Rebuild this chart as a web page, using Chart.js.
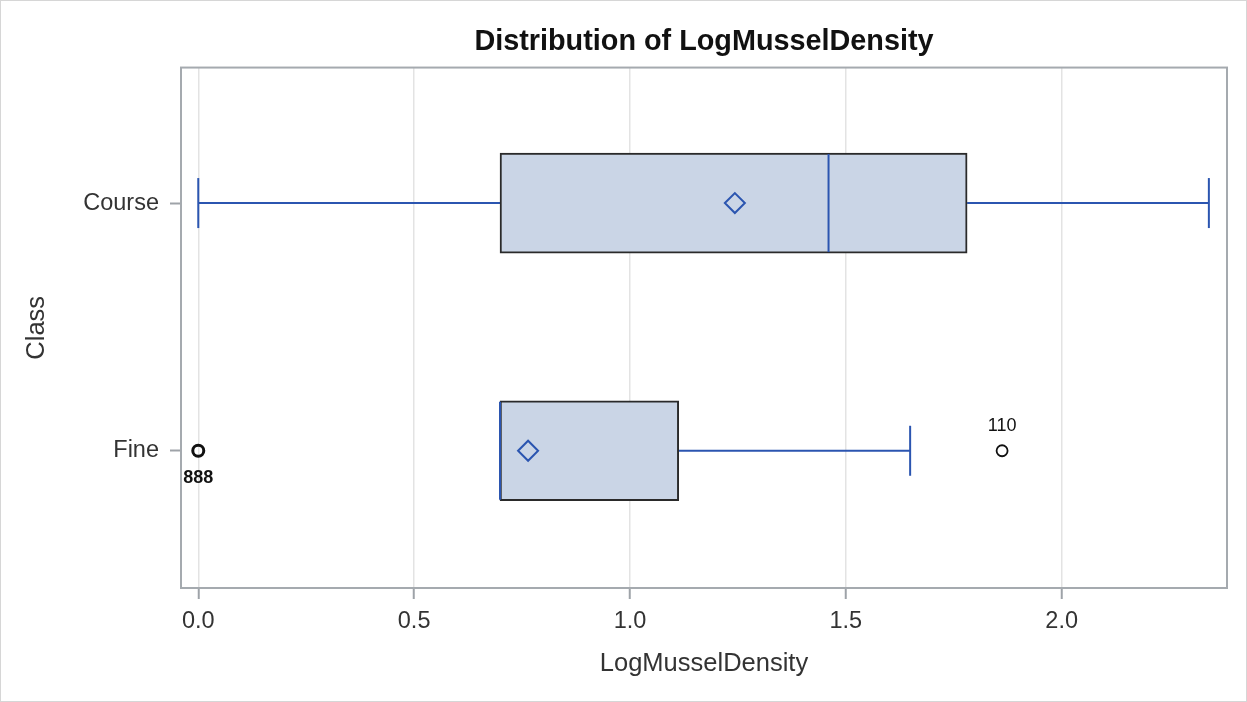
<!DOCTYPE html>
<html>
<head>
<meta charset="utf-8">
<script src="https://cdn.jsdelivr.net/npm/chart.js@4.4.0/dist/chart.umd.min.js"></script>
<style>
html, body { margin: 0; padding: 0; background: #fff; }
#moldura { width: 1245px; height: 700px; border: 1px solid #d6d6d6; }
</style>
</head>
<body>
<div id="moldura"><canvas id="graficoCaixas" width="1245" height="700"></canvas></div>
<script>
// dados
const classes = ['Course', 'Fine'];
const minimos = [0, 0.699];
const q1 = [0.699, 0.699];
const medianas = [1.460, 0.699];
const q3 = [1.781, 1.113];
const maximos = [2.341, 1.649];
const medias = [1.243, 0.764];

const outlierClasse = ['Fine', 'Fine'];
const outlierValor = [0, 1.862];
const outlierRotulo = ['888', '110'];
const outlierQtd = [4, 1];

const xTicks = [0, 0.5, 1.0, 1.5, 2.0];

const azul = '#2b55b0';
const corTexto = '#333333';
const corMoldura = '#a5aaaf';

// Course em cima, Fine em baixo
const posY = i => classes.length - 1 - i;

Chart.defaults.font.family = "'Liberation Sans', Arial, sans-serif";
Chart.defaults.color = corTexto;

const linha = (ctx, x1, y1, x2, y2) => {
    ctx.beginPath();
    ctx.moveTo(x1, y1);
    ctx.lineTo(x2, y2);
    ctx.stroke();
};

const caixas = {
    id: 'caixas',
    beforeDatasetsDraw(chart) {
        const { ctx, scales: { x, y } } = chart;
        ctx.save();
        ctx.strokeStyle = azul;
        ctx.lineWidth = 2;
        classes.forEach((c, i) => {
            const py = y.getPixelForValue(posY(i));
            const xMin = x.getPixelForValue(minimos[i]);
            const xQ1 = x.getPixelForValue(q1[i]);
            const xQ3 = x.getPixelForValue(q3[i]);
            const xMax = x.getPixelForValue(maximos[i]);
            if (minimos[i] < q1[i]) {
                linha(ctx, xMin, py, xQ1, py);
                linha(ctx, xMin, py - 25, xMin, py + 25);
            }
            if (maximos[i] > q3[i]) {
                linha(ctx, xQ3, py, xMax, py);
                linha(ctx, xMax, py - 25, xMax, py + 25);
            }
        });
        ctx.restore();
    },
    afterDatasetsDraw(chart) {
        const { ctx, scales: { x, y } } = chart;
        ctx.save();
        ctx.strokeStyle = azul;
        ctx.lineWidth = 2;
        classes.forEach((c, i) => {
            const py = y.getPixelForValue(posY(i));
            const xm = x.getPixelForValue(medianas[i]);
            linha(ctx, xm, py - 49, xm, py + 49);
        });
        // rótulos dos outliers
        ctx.fillStyle = '#111';
        ctx.textAlign = 'center';
        ctx.textBaseline = 'middle';
        outlierValor.forEach((v, k) => {
            const px = x.getPixelForValue(v);
            const py = y.getPixelForValue(posY(classes.indexOf(outlierClasse[k])));
            if (outlierQtd[k] > 1) {
                ctx.font = "bold 18px 'Liberation Sans', Arial, sans-serif";
                ctx.fillText(outlierRotulo[k], px, py + 27);
            } else {
                ctx.font = "18px 'Liberation Sans', Arial, sans-serif";
                ctx.fillText(outlierRotulo[k], px, py - 25);
            }
        });
        ctx.restore();
    },
    afterDraw(chart) {
        const { ctx, chartArea: a } = chart;
        ctx.save();
        ctx.strokeStyle = corMoldura;
        ctx.lineWidth = 2;
        ctx.strokeRect(a.left, a.top, a.right - a.left, a.bottom - a.top);
        ctx.restore();
    }
};

const ctx = document.getElementById('graficoCaixas').getContext('2d');
new Chart(ctx, {
    type: 'bar',
    data: {
        datasets: [{
            type: 'bar',
            indexAxis: 'y',
            data: classes.map((c, i) => ({ x: [q1[i], q3[i]], y: posY(i) })),
            backgroundColor: '#cad5e6',
            borderColor: '#2a2a2a',
            borderWidth: 2,
            borderSkipped: false,
            barThickness: 100,
            order: 3
        }, {
            type: 'scatter',
            data: classes.map((c, i) => ({ x: medias[i], y: posY(i) })),
            pointStyle: 'rectRot',
            pointRadius: 10,
            pointHoverRadius: 10,
            borderColor: azul,
            backgroundColor: 'rgba(0,0,0,0)',
            borderWidth: 2,
            order: 1
        }, {
            type: 'scatter',
            data: outlierValor.map((v, k) => ({ x: v, y: posY(classes.indexOf(outlierClasse[k])) })),
            pointStyle: 'circle',
            pointRadius: 5.5,
            pointHoverRadius: 5.5,
            borderColor: '#111',
            backgroundColor: 'rgba(0,0,0,0)',
            borderWidth: outlierQtd.map(n => n > 1 ? 3 : 1.8),
            order: 2
        }]
    },
    options: {
        responsive: false,
        animation: false,
        layout: {
            padding: { left: 0, right: 19, top: 0, bottom: 0 }
        },
        scales: {
            x: {
                type: 'linear',
                offset: false,
                min: -0.040,
                max: 2.383,
                afterBuildTicks: s => { s.ticks = xTicks.map(v => ({ value: v })); },
                afterFit: s => { s.height = 113; },
                border: { display: false },
                grid: {
                    offset: false,
                    color: '#e3e3e3',
                    lineWidth: 1.5,
                    tickColor: '#9ea3a8',
                    tickLength: 11,
                    tickWidth: 2
                },
                ticks: {
                    color: corTexto,
                    font: { size: 23.5 },
                    padding: 8,
                    maxRotation: 0,
                    callback: v => Number(v).toFixed(1)
                },
                title: {
                    display: true,
                    text: 'LogMusselDensity',
                    color: corTexto,
                    font: { size: 25.5 },
                    padding: { top: 0, bottom: 22 }
                }
            },
            y: {
                type: 'linear',
                offset: false,
                min: -0.554,
                max: 1.547,
                afterBuildTicks: s => { s.ticks = classes.map((c, i) => ({ value: posY(i) })); },
                afterFit: s => { s.width = 180; },
                border: { display: false },
                grid: {
                    offset: false,
                    drawOnChartArea: false,
                    tickColor: '#9ea3a8',
                    tickLength: 11,
                    tickWidth: 2
                },
                ticks: {
                    color: corTexto,
                    font: { size: 23.5 },
                    padding: 11,
                    callback: v => classes[classes.length - 1 - v]
                },
                title: {
                    display: true,
                    text: 'Class',
                    color: corTexto,
                    font: { size: 25.5 },
                    padding: { top: 21, bottom: 0 }
                }
            }
        },
        plugins: {
            legend: { display: false },
            tooltip: { enabled: false },
            title: {
                display: true,
                text: 'Distribution of LogMusselDensity',
                color: '#111',
                fullSize: false,
                font: { size: 28.8, weight: 'bold', lineHeight: 1.2 },
                padding: { top: 24, bottom: 8 }
            }
        }
    },
    plugins: [caixas]
});
</script>
</body>
</html>
